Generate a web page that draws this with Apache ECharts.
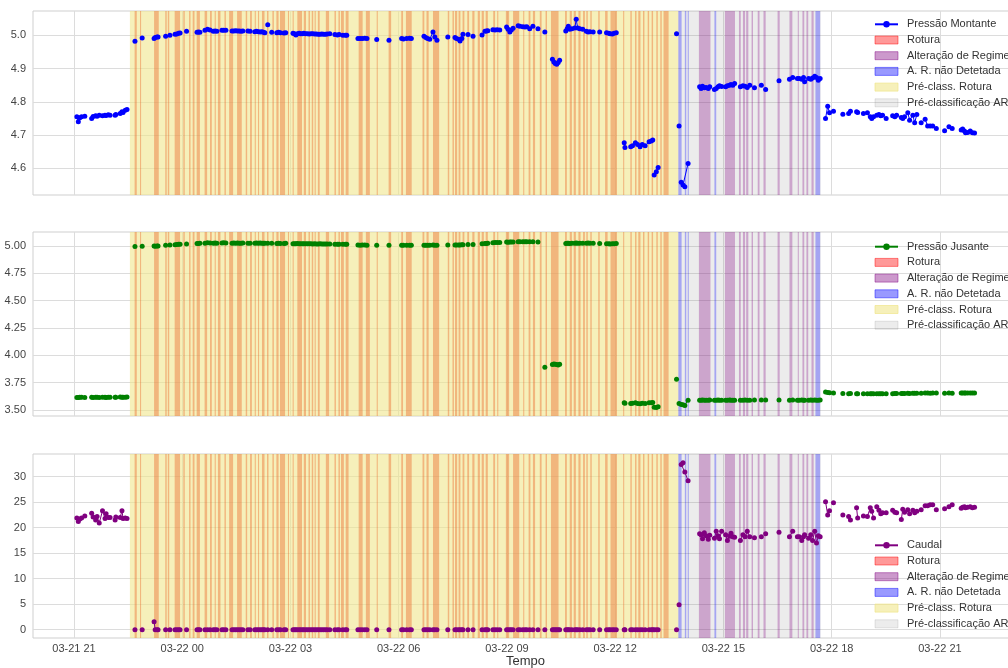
<!DOCTYPE html>
<html>
<head>
<meta charset="utf-8">
<script src="https://cdn.jsdelivr.net/npm/echarts@6/dist/echarts.min.js"></script>
<style>
html, body { margin: 0; padding: 0; background: #ffffff; }
#chart { width: 1008px; height: 668px; }
</style>
</head>
<body>
<div id="chart"></div>
<script>
// Tempo em horas desde 03-21 00:00; cada sub-lista é um troço contínuo de registos
const tempo = [
  [21.08, 21.12, 21.16, 21.21, 21.30],
  [21.49, 21.53, 21.60, 21.64, 21.70, 21.79, 21.86, 21.89, 21.95, 22.00],
  [22.14, 22.16],
  [22.28, 22.33, 22.36, 22.42, 22.47],
  [22.69],
  [22.89],
  [23.22, 23.25, 23.30, 23.33],
  [23.54],
  [23.66],
  [23.80, 23.85, 23.90, 23.94],
  [24.12],
  [24.41, 24.45, 24.49],
  [24.63, 24.70, 24.77],
  [24.86, 24.91, 24.96],
  [25.10, 25.15, 25.21],
  [25.38, 25.43, 25.48, 25.53, 25.58, 25.63, 25.68],
  [25.82, 25.88],
  [26.01, 26.06, 26.11, 26.16, 26.21, 26.25, 26.29],
  [26.37],
  [26.48],
  [26.62, 26.67, 26.72, 26.82, 26.87],
  [27.07, 27.11, 27.15, 27.19, 27.24, 27.28, 27.33, 27.37, 27.42, 27.47, 27.52, 27.57, 27.62, 27.67, 27.72, 27.77, 27.82, 27.87, 27.92, 27.97, 28.02, 28.09],
  [28.23, 28.30, 28.35, 28.45, 28.52, 28.56],
  [28.87, 28.93, 28.99, 29.06, 29.12],
  [29.39],
  [29.73],
  [30.08, 30.13, 30.22, 30.30, 30.35],
  [30.70, 30.75, 30.80, 30.86, 30.95, 31.00, 31.06],
  [31.36],
  [31.56, 31.60, 31.66, 31.70, 31.75, 31.78],
  [31.92],
  [32.06],
  [32.31, 32.39, 32.43, 32.47],
  [32.61, 32.67, 32.73, 32.80],
  [32.99, 33.03, 33.08, 33.12, 33.17],
  [33.31, 33.36, 33.44, 33.50, 33.55, 33.63, 33.72],
  [33.86],
  [34.05],
  [34.26, 34.30, 34.34, 34.38, 34.42, 34.46],
  [34.63, 34.67, 34.70, 34.74, 34.80, 34.88, 34.92, 34.96, 35.02, 35.10],
  [35.20, 35.25, 35.30, 35.39],
  [35.57],
  [35.76, 35.82, 35.86, 35.92, 35.97, 36.03],
  [36.25, 36.27],
  [36.43, 36.48, 36.56, 36.62, 36.69, 36.75, 36.83, 36.94, 37.00, 37.04],
  [37.08, 37.14, 37.19],
  [37.70],
  [37.77],
  [37.83, 37.88, 37.93, 38.02],
  [38.34, 38.38, 38.42, 38.47, 38.52, 38.58, 38.62],
  [38.75, 38.80, 38.85, 38.89, 38.95],
  [39.06, 39.11, 39.17, 39.21, 39.26, 39.31],
  [39.47, 39.54, 39.60, 39.66, 39.73],
  [39.86],
  [40.05],
  [40.17],
  [40.54],
  [40.83, 40.92],
  [41.05, 41.10, 41.17, 41.22, 41.25, 41.36, 41.42, 41.47, 41.53, 41.58, 41.63, 41.68],
  [41.83, 41.89, 41.94],
  [42.05],
  [42.31],
  [42.47, 42.52],
  [42.69, 42.72],
  [42.88, 42.99, 43.07, 43.11, 43.16],
  [43.25, 43.31, 43.36, 43.41],
  [43.51],
  [43.69, 43.75, 43.80],
  [43.93, 43.97, 44.02],
  [44.11, 44.16, 44.25, 44.30, 44.36],
  [44.48],
  [44.59, 44.66, 44.73, 44.80],
  [44.90],
  [45.13],
  [45.25, 45.34],
  [45.59, 45.63, 45.68, 45.71, 45.77, 45.84, 45.90, 45.96]
];

// Pressão a montante (bar)
const pressaoMontante = [
  [4.755, 4.740, 4.752, 4.755, 4.757],
  [4.750, 4.756, 4.758, 4.757, 4.760, 4.758, 4.760, 4.759, 4.761, 4.760],
  [4.760, 4.762],
  [4.765, 4.770, 4.768, 4.775, 4.777],
  [4.982],
  [4.992],
  [4.990, 4.993, 4.995, 4.995],
  [4.997],
  [5.000],
  [5.003, 5.004, 5.006, 5.007],
  [5.012],
  [5.009, 5.010, 5.009],
  [5.015, 5.018, 5.016],
  [5.012, 5.013, 5.012],
  [5.015, 5.015, 5.015],
  [5.013, 5.013, 5.014, 5.013, 5.013, 5.012, 5.013],
  [5.013, 5.012],
  [5.011, 5.012, 5.011, 5.010, 5.011, 5.009, 5.008],
  [5.032],
  [5.009],
  [5.008, 5.009, 5.008, 5.007, 5.008],
  [5.006, 5.005, 5.001, 5.005, 5.006, 5.005, 5.005, 5.006, 5.005, 5.005, 5.004, 5.005, 5.005, 5.004, 5.004, 5.003, 5.003, 5.004, 5.003, 5.003, 5.004, 5.005],
  [5.002, 5.001, 5.002, 5.000, 5.000, 5.000],
  [4.990, 4.990, 4.990, 4.991, 4.990],
  [4.987],
  [4.985],
  [4.990, 4.989, 4.990, 4.991, 4.990],
  [4.997, 4.993, 4.990, 4.988, 5.010, 4.995, 4.985],
  [4.995],
  [4.993, 4.990, 4.988, 4.983, 4.990, 5.003],
  [5.002],
  [4.997],
  [5.001, 5.012, 5.013, 5.014],
  [5.017, 5.016, 5.017, 5.016],
  [5.025, 5.018, 5.010, 5.016, 5.021],
  [5.029, 5.027, 5.026, 5.025, 5.026, 5.020, 5.027],
  [5.020],
  [5.010],
  [4.928, 4.920, 4.915, 4.913, 4.918, 4.925],
  [5.013, 5.020, 5.027, 5.018, 5.020, 5.022, 5.048, 5.022, 5.020, 5.018],
  [5.012, 5.010, 5.011, 5.010],
  [5.010],
  [5.008, 5.006, 5.005, 5.004, 5.006, 5.008],
  [4.677, 4.663],
  [4.665, 4.668, 4.677, 4.672, 4.665, 4.672, 4.668, 4.680, 4.682, 4.685],
  [4.580, 4.590, 4.603],
  [5.005],
  [4.727],
  [4.558, 4.550, 4.545, 4.615],
  [4.845, 4.840, 4.847, 4.842, 4.843, 4.840, 4.845],
  [4.837, 4.840, 4.845, 4.848, 4.846],
  [4.845, 4.848, 4.850, 4.852, 4.850, 4.855],
  [4.845, 4.848, 4.847, 4.843, 4.850],
  [4.842],
  [4.850],
  [4.837],
  [4.863],
  [4.868, 4.873],
  [4.870, 4.870, 4.868, 4.873, 4.860, 4.870, 4.868, 4.872, 4.877, 4.873, 4.865, 4.870],
  [4.750, 4.787, 4.767],
  [4.772],
  [4.763],
  [4.765, 4.772],
  [4.770, 4.768],
  [4.765, 4.767, 4.755, 4.750, 4.755],
  [4.760, 4.762, 4.758, 4.760],
  [4.750],
  [4.758, 4.755, 4.760],
  [4.753, 4.750, 4.755],
  [4.767, 4.745, 4.760, 4.737, 4.762],
  [4.737],
  [4.748, 4.727, 4.727, 4.727],
  [4.720],
  [4.713],
  [4.725, 4.720],
  [4.715, 4.718, 4.712, 4.707, 4.708, 4.712, 4.707, 4.706]
];

// Pressão a jusante (bar)
const pressaoJusante = [
  [3.615, 3.615, 3.616, 3.617, 3.615],
  [3.616, 3.615, 3.617, 3.616, 3.615, 3.617, 3.616, 3.615, 3.617, 3.616],
  [3.616, 3.617],
  [3.618, 3.617, 3.616, 3.617, 3.618],
  [4.994],
  [4.997],
  [4.998, 4.997, 4.998, 4.999],
  [5.006],
  [5.008],
  [5.010, 5.012, 5.014, 5.016],
  [5.018],
  [5.022, 5.023, 5.024],
  [5.025, 5.028, 5.026],
  [5.025, 5.026, 5.025],
  [5.027, 5.028, 5.027],
  [5.025, 5.026, 5.025, 5.026, 5.025, 5.025, 5.026],
  [5.025, 5.024],
  [5.025, 5.026, 5.025, 5.026, 5.025, 5.024, 5.025],
  [5.024],
  [5.024],
  [5.023, 5.024, 5.023, 5.023, 5.024],
  [5.020, 5.019, 5.020, 5.021, 5.020, 5.019, 5.020, 5.020, 5.019, 5.020, 5.019, 5.019, 5.018, 5.019, 5.018, 5.018, 5.019, 5.018, 5.018, 5.017, 5.018, 5.018],
  [5.016, 5.015, 5.016, 5.015, 5.014, 5.015],
  [5.008, 5.007, 5.008, 5.008, 5.007],
  [5.006],
  [5.005],
  [5.005, 5.006, 5.005, 5.006, 5.005],
  [5.006, 5.005, 5.006, 5.005, 5.008, 5.006, 5.005],
  [5.008],
  [5.008, 5.009, 5.008, 5.009, 5.010, 5.010],
  [5.012],
  [5.013],
  [5.020, 5.022, 5.023, 5.024],
  [5.028, 5.030, 5.031, 5.030],
  [5.035, 5.034, 5.036, 5.035, 5.036],
  [5.038, 5.037, 5.039, 5.038, 5.037, 5.038, 5.039],
  [5.036],
  [3.890],
  [3.915, 3.920, 3.918, 3.915, 3.912, 3.918],
  [5.022, 5.024, 5.025, 5.023, 5.024, 5.025, 5.026, 5.024, 5.025, 5.024],
  [5.025, 5.026, 5.025, 5.024],
  [5.022],
  [5.020, 5.019, 5.018, 5.019, 5.020, 5.021],
  [3.565, 3.562],
  [3.560, 3.562, 3.565, 3.560, 3.558, 3.562, 3.560, 3.565, 3.566, 3.568],
  [3.525, 3.522, 3.530],
  [3.782],
  [3.560],
  [3.550, 3.548, 3.542, 3.590],
  [3.590, 3.590, 3.591, 3.590, 3.590, 3.590, 3.591],
  [3.590, 3.590, 3.591, 3.590, 3.590],
  [3.590, 3.590, 3.591, 3.590, 3.590, 3.590],
  [3.590, 3.590, 3.591, 3.590, 3.590],
  [3.591],
  [3.592],
  [3.592],
  [3.592],
  [3.590, 3.592],
  [3.590, 3.590, 3.591, 3.590, 3.590, 3.590, 3.591, 3.590, 3.591, 3.590, 3.590, 3.591],
  [3.665, 3.660, 3.657],
  [3.655],
  [3.650],
  [3.648, 3.650],
  [3.648, 3.649],
  [3.648, 3.648, 3.648, 3.648, 3.649],
  [3.648, 3.648, 3.649, 3.648],
  [3.648],
  [3.649, 3.650, 3.650],
  [3.650, 3.651, 3.650],
  [3.652, 3.651, 3.652, 3.652, 3.653],
  [3.652],
  [3.655, 3.655, 3.654, 3.655],
  [3.655],
  [3.652],
  [3.655, 3.654],
  [3.655, 3.656, 3.655, 3.656, 3.655, 3.656, 3.655, 3.656]
];

// Caudal
const caudal = [
  [21.9, 21.2, 21.7, 21.9, 22.3],
  [22.8, 22.1, 21.5, 22.2, 20.9, 23.3, 21.8, 22.7, 22.0, 22.0],
  [21.5, 22.1],
  [22.0, 23.3, 21.8, 21.9, 21.8],
  [0],
  [0],
  [1.55, 0, 0, 0],
  [0],
  [0],
  [0, 0, 0, 0],
  [0],
  [0, 0, 0],
  [0, 0, 0],
  [0, 0, 0],
  [0, 0, 0],
  [0, 0, 0, 0, 0, 0, 0],
  [0, 0],
  [0, 0, 0, 0, 0, 0, 0],
  [0],
  [0],
  [0, 0, 0, 0, 0],
  [0, 0, 0, 0, 0, 0, 0, 0, 0, 0, 0, 0, 0, 0, 0, 0, 0, 0, 0, 0, 0, 0],
  [0, 0, 0, 0, 0, 0],
  [0, 0, 0, 0, 0],
  [0],
  [0],
  [0, 0, 0, 0, 0],
  [0, 0, 0, 0, 0, 0, 0],
  [0],
  [0, 0, 0, 0, 0, 0],
  [0],
  [0],
  [0, 0, 0, 0],
  [0, 0, 0, 0],
  [0, 0, 0, 0, 0],
  [0, 0, 0, 0, 0, 0, 0],
  [0],
  [0],
  [0, 0, 0, 0, 0, 0],
  [0, 0, 0, 0, 0, 0, 0, 0, 0, 0],
  [0, 0, 0, 0],
  [0],
  [0, 0, 0, 0, 0, 0],
  [0, 0],
  [0, 0, 0, 0, 0, 0, 0, 0, 0, 0],
  [0, 0, 0],
  [0],
  [4.9],
  [32.4, 32.7, 30.9, 29.2],
  [18.8, 18.6, 17.8, 19.0, 18.4, 17.7, 18.5],
  [17.9, 19.3, 18.4, 17.8, 19.3],
  [18.6, 17.5, 18.3, 18.9, 18.2, 18.1],
  [17.5, 18.6, 18.2, 19.3, 18.2],
  [18.0],
  [18.2],
  [18.8],
  [19.1],
  [18.2, 19.3],
  [18.2, 18.2, 17.5, 18.2, 18.6, 17.9, 18.6, 17.5, 19.3, 17.0, 18.4, 18.2],
  [25.1, 22.5, 23.3],
  [24.9],
  [22.5],
  [22.2, 21.5],
  [23.9, 21.9],
  [22.3, 22.2, 23.9, 23.2, 21.9],
  [24.1, 23.4, 22.7, 22.9],
  [22.9],
  [23.4, 23.0, 22.9],
  [21.6, 23.6, 23.0],
  [23.5, 22.7, 23.4, 22.9, 23.2],
  [23.5],
  [24.3, 24.3, 24.5, 24.5],
  [23.5],
  [23.7],
  [24.1, 24.5],
  [23.8, 24.0, 24.1, 23.9, 24.0, 24.1, 23.9, 24.0]
];

// Intervalos de classificação [início, fim] em horas desde 03-21 00:00
const faixasPreRotura = [[22.55, 37.75]];
const faixasPreAR = [[37.75, 41.70]];
const faixasRotura = [
  [22.68, 22.74], [22.83, 22.86], [23.22, 23.35], [23.53, 23.57], [23.60, 23.64], [23.79, 23.94],
  [24.03, 24.07], [24.19, 24.23], [24.29, 24.34], [24.40, 24.49], [24.62, 24.69], [24.77, 24.82],
  [24.90, 24.93], [24.99, 25.06], [25.17, 25.21], [25.30, 25.41], [25.52, 25.65], [25.76, 25.80],
  [25.88, 25.93], [26.01, 26.04], [26.10, 26.13], [26.21, 26.28], [26.35, 26.39], [26.50, 26.54],
  [26.61, 26.67], [26.71, 26.85], [26.93, 26.96], [27.06, 27.09], [27.19, 27.32], [27.37, 27.43],
  [27.50, 27.54], [27.59, 27.63], [27.67, 27.70], [27.76, 27.81], [27.98, 28.07], [28.22, 28.26],
  [28.33, 28.37], [28.40, 28.48], [28.53, 28.61], [28.89, 29.00], [29.09, 29.20], [29.39, 29.42],
  [29.72, 29.79], [30.07, 30.12], [30.20, 30.36], [30.66, 30.71], [30.77, 30.83], [30.95, 31.12],
  [31.36, 31.40], [31.49, 31.53], [31.56, 31.62], [31.66, 31.71], [31.77, 31.82], [31.90, 31.95],
  [32.04, 32.10], [32.19, 32.25], [32.30, 32.36], [32.41, 32.47], [32.62, 32.67], [32.73, 32.76],
  [32.97, 33.06], [33.17, 33.34], [33.45, 33.48], [33.60, 33.65], [33.72, 33.78], [33.91, 33.96],
  [34.07, 34.11], [34.22, 34.43], [34.61, 34.66], [34.74, 34.80], [34.85, 34.91], [34.98, 35.04],
  [35.11, 35.16], [35.20, 35.24], [35.31, 35.35], [35.53, 35.57], [35.72, 35.79], [35.87, 36.05],
  [36.22, 36.25], [36.42, 36.46], [36.55, 36.59], [36.64, 36.70], [36.77, 36.81], [36.90, 36.94],
  [37.01, 37.05], [37.14, 37.18], [37.25, 37.29], [37.34, 37.48]
];
const faixasAlteracao = [
  [38.32, 38.64], [39.04, 39.32], [39.43, 39.48], [39.54, 39.60], [39.63, 39.69], [39.78, 39.82],
  [39.95, 40.00], [40.11, 40.17], [40.50, 40.56], [40.83, 40.91], [41.06, 41.09], [41.19, 41.24],
  [41.30, 41.35], [41.44, 41.50]
];
const faixasARNaoDetetada = [
  [37.75, 37.84], [37.93, 37.97], [38.01, 38.04], [38.75, 38.80], [41.55, 41.68]
];

// Marcas do eixo
const ticksTempo = [21, 24, 27, 30, 33, 36, 39, 42, 45];
const ticksMontante = [4.6, 4.7, 4.8, 4.9, 5.0];
const ticksJusante = [3.50, 3.75, 4.00, 4.25, 4.50, 4.75, 5.00];
const ticksCaudal = [0, 5, 10, 15, 20, 25, 30];

const FONT = 'Liberation Sans, Arial, Helvetica, sans-serif';

function rotuloTempo(h) {
  const dia = 21 + Math.floor(h / 24);
  const hora = Math.round(h - Math.floor(h / 24) * 24);
  return '03-' + String(dia).padStart(2, '0') + ' ' + String(hora).padStart(2, '0');
}

// Junta os troços numa só série, com uma quebra entre troços
function construirSerie(valores) {
  const out = [];
  tempo.forEach((troco, i) => {
    if (i > 0) out.push(['-', '-']);
    troco.forEach((t, k) => out.push([t, valores[i][k]]));
  });
  return out;
}

const categorias = [
  { nome: 'Rotura', faixas: faixasRotura, cor: 'rgba(236,96,36,0.4)', icone: 'rgba(255,0,0,0.4)', borda: 'rgba(255,0,0,0.45)', z: 2 },
  { nome: 'Alteração de Regime', faixas: faixasAlteracao, cor: 'rgba(128,0,128,0.3)', icone: 'rgba(128,0,128,0.4)', borda: 'rgba(128,0,128,0.45)', z: 2 },
  { nome: 'A. R. não Detetada', faixas: faixasARNaoDetetada, cor: 'rgba(0,0,255,0.3)', icone: 'rgba(0,0,255,0.4)', borda: 'rgba(0,0,255,0.45)', z: 2 },
  { nome: 'Pré-class. Rotura', faixas: faixasPreRotura, cor: 'rgba(240,230,140,0.6)', icone: 'rgba(240,230,140,0.6)', borda: 'rgba(240,230,140,0.7)', z: 1 },
  { nome: 'Pré-classificação AR', faixas: faixasPreAR, cor: 'rgba(128,128,128,0.15)', icone: 'rgba(128,128,128,0.15)', borda: 'rgba(128,128,128,0.2)', z: 1 }
];

const paineis = [
  { nome: 'Pressão Montante', valores: pressaoMontante, cor: '#0000ff', min: 4.52, max: 5.073, ticks: ticksMontante, casas: 1, top: 11, legTop: 18.8 },
  { nome: 'Pressão Jusante', valores: pressaoJusante, cor: '#008000', min: 3.445, max: 5.127, ticks: ticksJusante, casas: 2, top: 232, legTop: 241.2 },
  { nome: 'Caudal', valores: caudal, cor: '#800080', min: -1.64, max: 34.44, ticks: ticksCaudal, casas: 0, top: 454, legTop: 539.8 }
];

const grid = [], xAxis = [], yAxis = [], series = [], legend = [];

paineis.forEach((p, g) => {
  grid.push({
    left: 33, width: 985, top: p.top, height: 184,
    outerBoundsMode: 'none',
    show: true, borderColor: '#cfcfcf', borderWidth: 1, backgroundColor: '#ffffff'
  });
  const ultimo = g === paineis.length - 1;
  xAxis.push({
    type: 'value', gridIndex: g, min: 19.864, max: 47.164,
    axisLine: { show: false },
    axisTick: { show: false, customValues: ticksTempo },
    axisLabel: {
      show: ultimo, customValues: ticksTempo, formatter: rotuloTempo,
      fontSize: 11, color: '#444', fontFamily: FONT, margin: 5
    },
    splitLine: { show: true, lineStyle: { color: '#dcdcdc', width: 1 } },
    name: ultimo ? 'Tempo' : '', nameLocation: 'middle', nameGap: 16,
    nameTextStyle: { fontSize: 13, color: '#333', fontFamily: FONT }
  });
  yAxis.push({
    type: 'value', gridIndex: g, min: p.min, max: p.max,
    axisLine: { show: false },
    axisTick: { show: false, customValues: p.ticks },
    axisLabel: {
      customValues: p.ticks, formatter: v => v.toFixed(p.casas),
      fontSize: 11, color: '#444', fontFamily: FONT, margin: 7
    },
    splitLine: { show: true, lineStyle: { color: '#dcdcdc', width: 1 } }
  });

  categorias.forEach(c => {
    series.push({
      type: 'line', name: c.nome, xAxisIndex: g, yAxisIndex: g, data: [],
      silent: true, z: c.z, color: c.icone,
      markArea: {
        silent: true, z: c.z,
        itemStyle: { color: c.cor, borderWidth: 0 },
        label: { show: false },
        data: c.faixas.map(([a, b]) => [{ xAxis: a }, { xAxis: b }])
      }
    });
  });

  series.push({
    type: 'line', name: p.nome, xAxisIndex: g, yAxisIndex: g, z: 5,
    data: construirSerie(p.valores), connectNulls: false,
    symbol: 'circle', symbolSize: 5, showSymbol: true, showAllSymbol: true,
    color: p.cor, itemStyle: { color: p.cor },
    lineStyle: { color: p.cor, width: 1 }
  });

  legend.push({
    orient: 'vertical', left: 874, top: p.legTop, padding: 0,
    itemWidth: 23, itemHeight: 8, itemGap: 4.7,
    textStyle: { fontSize: 11, color: '#333', fontFamily: FONT, padding: [0, 0, 0, 4] },
    selectedMode: false,
    data: [{ name: p.nome }].concat(categorias.map(c => ({
      name: c.nome, icon: 'rect',
      itemStyle: { color: c.icone, borderColor: c.borda, borderWidth: 1 }
    })))
  });
});

const chart = echarts.init(document.getElementById('chart'), null, { renderer: 'canvas' });
chart.setOption({
  animation: false,
  backgroundColor: '#ffffff',
  grid, xAxis, yAxis, series, legend
});
</script>
</body>
</html>
